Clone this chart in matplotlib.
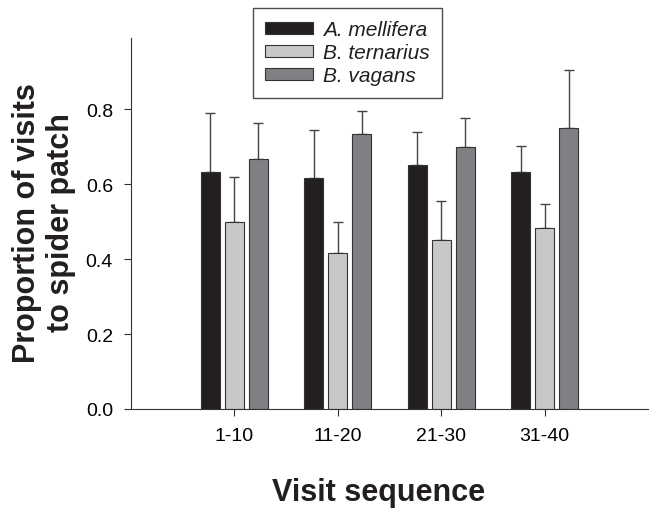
import numpy as np
import matplotlib
matplotlib.use("Agg")
import matplotlib.pyplot as plt

plt.rcParams["font.family"] = ["Liberation Sans", "DejaVu Sans"]

groups = ["1-10", "11-20", "21-30", "31-40"]
species = ["A. mellifera", "B. ternarius", "B. vagans"]
mellifera = [0.633, 0.617, 0.650, 0.633]
mellifera_err = [0.157, 0.128, 0.090, 0.070]
ternarius = [0.500, 0.417, 0.450, 0.483]
ternarius_err = [0.118, 0.083, 0.105, 0.065]
vagans = [0.667, 0.733, 0.700, 0.750]
vagans_err = [0.095, 0.062, 0.077, 0.155]

colors = ["#231f20", "#c8c8c8", "#7f8084"]
fig = plt.figure(figsize=(6.49, 5.10), dpi=100)
ax = fig.add_axes([131 / 649, 100 / 510, 517 / 649, 371 / 510])

x = np.arange(1, len(groups) + 1)
w = 0.184
off = 0.232
series = [(mellifera, mellifera_err), (ternarius, ternarius_err), (vagans, vagans_err)]
for i, (vals, errs) in enumerate(series):
    ax.bar(x + (i - 1) * off, vals, width=w, color=colors[i], edgecolor="#333333",
           linewidth=0.8, label=species[i], zorder=2)
    ax.errorbar(x + (i - 1) * off, vals, yerr=[np.zeros(len(errs)), errs], fmt="none",
                ecolor="#444444", elinewidth=1.0, capsize=3.5, capthick=1.0, zorder=1)

ax.set_xlim(0.0, 5.0)
ax.set_ylim(0, 0.99)
ax.set_xticks(x)
ax.set_xticklabels(groups, fontsize=14)
ax.set_yticks([0, 0.2, 0.4, 0.6, 0.8])
ax.set_yticklabels(["0.0", "0.2", "0.4", "0.6", "0.8"], fontsize=14)
ax.spines["top"].set_visible(False)
ax.spines["right"].set_visible(False)
for s in ["left", "bottom"]:
    ax.spines[s].set_color("#333333")
ax.tick_params(direction="out", length=5, color="#333333", pad=8)

fig.text(44 / 649, 1 - 223 / 510, "Proportion of visits\nto spider patch", fontsize=22,
         fontweight="bold", rotation=90, ha="center", va="center", linespacing=1.15,
         color="#231f20")
fig.text(379 / 649, 1 - 493 / 510, "Visit sequence", fontsize=22, fontweight="bold",
         ha="center", va="center", color="#231f20")

leg = fig.legend(loc="upper left", bbox_to_anchor=(253 / 649, 1 - 9 / 510),
                 frameon=True, fancybox=False, edgecolor="#222222", fontsize=15,
                 handlelength=2.3, handleheight=0.5, handletextpad=0.5,
                 borderpad=0.58, labelspacing=0.2, borderaxespad=0)
for t in leg.get_texts():
    t.set_fontstyle("italic")
    t.set_color("#231f20")
leg.get_frame().set_linewidth(1.0)

fig.savefig("out.png", dpi=100)
